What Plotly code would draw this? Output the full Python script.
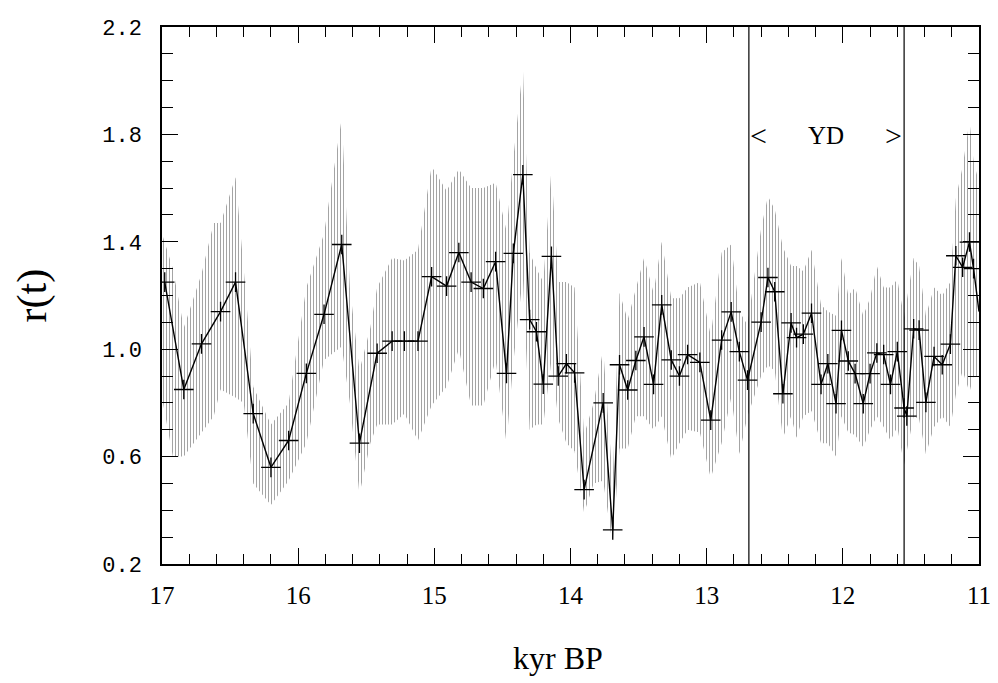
import plotly.graph_objects as go

# cross-point series (kyr BP, r(t))
t = [16.98, 16.84, 16.71, 16.57, 16.46, 16.33, 16.20, 16.07, 15.94, 15.81, 15.68, 15.55,
     15.42, 15.31, 15.22, 15.12, 15.02, 14.91, 14.82, 14.73, 14.64, 14.55, 14.47, 14.42,
     14.35, 14.30, 14.25, 14.20, 14.14, 14.09, 14.03, 13.97, 13.90, 13.76, 13.69, 13.64,
     13.58, 13.52, 13.46, 13.39, 13.33, 13.26, 13.20, 13.14, 13.05, 12.97, 12.89, 12.82,
     12.76, 12.70, 12.60, 12.55, 12.50, 12.44, 12.38, 12.34, 12.29, 12.23, 12.16, 12.11,
     12.05, 12.01, 11.96, 11.91, 11.85, 11.80, 11.75, 11.70, 11.65, 11.60, 11.55, 11.53,
     11.48, 11.44, 11.39, 11.33, 11.27, 11.21, 11.17, 11.12, 11.07, 11.04]
r = [1.25, 0.85, 1.02, 1.14, 1.25, 0.76, 0.56, 0.66, 0.91, 1.13, 1.39, 0.65,
     0.985, 1.03, 1.03, 1.03, 1.27, 1.235, 1.36, 1.25, 1.226, 1.326, 0.91, 1.357,
     1.65, 1.11, 1.065, 0.87, 1.346, 0.90, 0.946, 0.912, 0.477, 0.80, 0.327, 0.942,
     0.848, 0.958, 1.046, 0.869, 1.165, 0.96, 0.90, 0.98, 0.951, 0.736, 1.034, 1.139,
     0.991, 0.885, 1.101, 1.267, 1.214, 0.834, 1.098, 1.043, 1.056, 1.134, 0.869, 0.946,
     0.797, 1.07, 0.956, 0.909, 0.797, 0.909, 0.986, 0.98, 0.869, 0.991, 0.781, 0.751,
     1.076, 1.071, 0.802, 0.973, 0.942, 1.019, 1.348, 1.305, 1.399, 1.30]
# line continues to the right frame
t_end = 11.00
r_end = 1.14

# stippled uncertainty band (upper / lower envelope)
band_t = [17.00, 16.92, 16.84, 16.71, 16.62, 16.57, 16.46, 16.40, 16.33, 16.20, 16.07, 15.94,
          15.81, 15.68, 15.62, 15.55, 15.47, 15.42, 15.31, 15.22, 15.12, 15.02, 14.91, 14.82,
          14.73, 14.64, 14.55, 14.47, 14.42, 14.35, 14.30, 14.25, 14.20, 14.14, 14.09, 14.03,
          13.97, 13.90, 13.83, 13.76, 13.69, 13.64, 13.58, 13.52, 13.46, 13.39, 13.33, 13.26,
          13.20, 13.14, 13.05, 12.97, 12.89, 12.82, 12.76, 12.70, 12.60, 12.55, 12.50, 12.44,
          12.38, 12.34, 12.29, 12.23, 12.16, 12.11, 12.05, 12.01, 11.96, 11.91, 11.85, 11.80,
          11.75, 11.70, 11.65, 11.60, 11.55, 11.48, 11.44, 11.39, 11.33, 11.27, 11.21, 11.17,
          11.12, 11.07, 11.04, 11.00]
band_hi = [1.43, 1.30, 1.08, 1.28, 1.47, 1.47, 1.64, 1.30, 0.86, 0.72, 0.80, 1.23,
           1.43, 1.86, 1.23, 0.92, 1.08, 1.23, 1.34, 1.33, 1.37, 1.68, 1.59, 1.67,
           1.60, 1.60, 1.62, 1.44, 1.71, 2.05, 1.36, 1.30, 1.25, 1.67, 1.25, 1.25,
           1.23, 0.68, 0.80, 1.00, 0.51, 1.21, 1.11, 1.23, 1.34, 1.21, 1.40, 1.19,
           1.19, 1.23, 1.25, 1.05, 1.36, 1.39, 1.14, 1.09, 1.45, 1.57, 1.52, 1.38,
           1.31, 1.31, 1.29, 1.37, 1.165, 1.14, 1.125, 1.34, 1.20, 1.23, 1.125, 1.19,
           1.31, 1.23, 1.23, 1.26, 1.12, 1.34, 1.31, 1.125, 1.23, 1.20, 1.25, 1.56,
           1.68, 1.85, 1.70, 1.62]
band_lo = [0.82, 0.60, 0.60, 0.69, 0.75, 0.85, 0.82, 0.80, 0.50, 0.42, 0.51, 0.65,
           0.96, 1.01, 0.80, 0.46, 0.65, 0.72, 0.72, 0.76, 0.66, 0.79, 0.86, 1.00,
           0.79, 0.79, 0.96, 0.65, 0.95, 1.27, 0.70, 0.72, 0.72, 0.96, 0.74, 0.65,
           0.62, 0.39, 0.50, 0.51, 0.27, 0.63, 0.63, 0.75, 0.75, 0.70, 0.75, 0.59,
           0.65, 0.70, 0.69, 0.52, 0.65, 0.82, 0.61, 0.75, 0.90, 0.94, 0.92, 0.67,
           0.75, 0.67, 0.75, 0.77, 0.65, 0.65, 0.60, 0.75, 0.69, 0.68, 0.635, 0.70,
           0.75, 0.71, 0.66, 0.71, 0.57, 0.75, 0.74, 0.61, 0.71, 0.75, 0.71, 0.83,
           0.92, 0.84, 0.90, 0.90]

yd_start = 12.69
yd_end = 11.55

x_ticks = [17, 16, 15, 14, 13, 12, 11]
y_ticks = [0.2, 0.6, 1.0, 1.4, 1.8, 2.2]

SERIF = "Liberation Serif"
MONO = "Liberation Mono"

fig = go.Figure()

fig.add_trace(go.Scatter(x=band_t, y=band_lo, mode="lines", line=dict(width=0),
                         showlegend=False, hoverinfo="skip"))
fig.add_trace(go.Scatter(x=band_t, y=band_hi, mode="lines", line=dict(width=0),
                         fill="tonexty", fillcolor="rgba(0,0,0,0)",
                         fillpattern=dict(shape="|", fgcolor="#4a4a4a", bgcolor="white",
                                          size=3, solidity=0.34),
                         showlegend=False, hoverinfo="skip"))

fig.add_trace(go.Scatter(x=t + [t_end], y=r + [r_end], mode="lines",
                         line=dict(color="black", width=1.4), showlegend=False))
fig.add_trace(go.Scatter(x=t, y=r, mode="markers",
                         marker=dict(symbol="cross-thin", size=14,
                                     line=dict(color="black", width=1.3)),
                         showlegend=False))

for xv in (yd_start, yd_end):
    fig.add_shape(type="line", x0=xv, x1=xv, y0=0.2, y1=2.2, xref="x", yref="y",
                  line=dict(color="black", width=1.2))

for txt, xv, sz in (("<", 12.617, 30), ("YD", 12.12, 25), (">", 11.625, 30)):
    fig.add_annotation(x=xv, y=1.795, text=txt, showarrow=False,
                       xanchor="center", yanchor="middle",
                       font=dict(family=SERIF, size=sz, color="black"))

fig.add_annotation(x=0.485, y=-0.1755, xref="paper", yref="paper", text="kyr BP",
                   xanchor="center", yanchor="middle",
                   showarrow=False, font=dict(family=SERIF, size=32, color="black"))
fig.add_annotation(x=-0.158, y=0.5, xref="paper", yref="paper", text="r(t)", textangle=-90,
                   xanchor="center", yanchor="middle",
                   showarrow=False, font=dict(family=SERIF, size=42, color="black"))

fig.update_xaxes(range=[17, 11], tickvals=x_ticks, ticktext=[str(v) for v in x_ticks],
                 ticks="inside", ticklen=16, tickwidth=1.3, tickcolor="black",
                 ticklabelstandoff=8,
                 minor=dict(ticks="inside", dtick=0.2, tick0=11, ticklen=10, tickwidth=1.1,
                            tickcolor="black", showgrid=False),
                 mirror="allticks", showline=True, linecolor="black", linewidth=1.5,
                 showgrid=False, zeroline=False,
                 tickfont=dict(family=SERIF, size=25, color="black"))
fig.update_yaxes(range=[0.2, 2.2], tickvals=y_ticks, ticktext=["%.1f" % v for v in y_ticks],
                 ticks="inside", ticklen=16, tickwidth=1.3, tickcolor="black",
                 ticklabelstandoff=14,
                 minor=dict(ticks="inside", dtick=0.1, tick0=0.2, ticklen=11, tickwidth=1.1,
                            tickcolor="black", showgrid=False),
                 mirror="allticks", showline=True, linecolor="black", linewidth=1.5,
                 showgrid=False, zeroline=False,
                 tickfont=dict(family=MONO, size=22, color="black"))

# page body has an 8px default margin, so margins are shifted to keep the plot box in place
fig.update_layout(width=998, height=683, margin=dict(l=154, r=27, t=9, b=127),
                  paper_bgcolor="white", plot_bgcolor="white")

fig.write_html("out.html")
